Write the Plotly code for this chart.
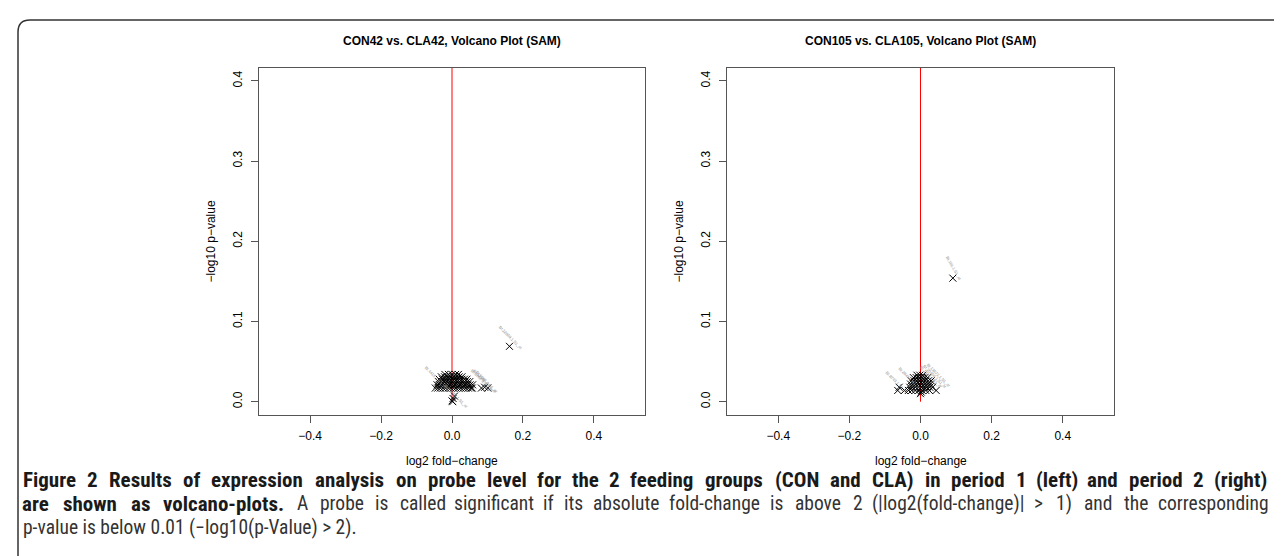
import plotly.graph_objects as go

W, H = 1282, 556

# ---------------- data ----------------
titles = ["CON42 vs. CLA42, Volcano Plot (SAM)", "CON105 vs. CLA105, Volcano Plot (SAM)"]
x_ticks = [-0.4, -0.2, 0.0, 0.2, 0.4]
x_tick_labels = ["\u22120.4", "\u22120.2", "0.0", "0.2", "0.4"]
y_ticks = [0.0, 0.1, 0.2, 0.3, 0.4]
y_tick_labels = ["0.0", "0.1", "0.2", "0.3", "0.4"]

# period 1 (left)
fc_left = [-0.047, -0.040, -0.033, -0.025, -0.018, -0.010, -0.003, 0.004, 0.011, 0.018, 0.025, 0.032, 0.039, 0.046, 0.053, 0.057,
           -0.042, -0.035, -0.028, -0.020, -0.012, -0.005, 0.002, 0.009, 0.016, 0.023, 0.030, 0.037, 0.044, 0.051, 0.058,
           -0.038, -0.030, -0.022, -0.014, -0.006, 0.001, 0.008, 0.015, 0.022, 0.029, 0.036, 0.043, 0.050,
           -0.036, -0.027, -0.018, -0.009, 0.000, 0.007, 0.014, 0.021, 0.028, 0.035, 0.042,
           -0.030, -0.021, -0.012, -0.004, 0.004, 0.012, 0.020, 0.028,
           -0.020, -0.010, 0.000, 0.010, 0.018,
           0.083, 0.092, 0.101, 0.162,
           0.000, 0.003, 0.007, 0.002]
p_left = [0.017] * 16 + [0.021] * 15 + [0.025] * 13 + [0.028] * 11 + [0.031] * 8 + [0.034] * 5 + \
         [0.017, 0.018, 0.017, 0.069] + [0.001, 0.004, 0.007, 0.000]

# period 2 (right)
fc_right = [-0.064, -0.045, -0.034, -0.025, -0.015, -0.005, 0.005, 0.015, 0.025, 0.044,
            -0.060, -0.030, -0.022, -0.014, -0.006, 0.002, 0.010, 0.018, 0.026, 0.034,
            -0.028, -0.020, -0.012, -0.004, 0.004, 0.012, 0.020, 0.028,
            -0.026, -0.018, -0.010, -0.002, 0.006, 0.014, 0.022, 0.030,
            -0.020, -0.012, -0.004, 0.004, 0.012, 0.020,
            -0.010, -0.002, 0.006,
            0.000, 0.002, 0.091]
p_right = [0.014] * 10 + [0.018] * 10 + [0.022] * 8 + [0.026] * 8 + [0.030] * 6 + [0.033] * 3 + \
          [0.010, 0.012, 0.154]

# probe labels (tiny, grey) next to selected points
lab_left_text = ["Bt.22869.1.S1_at", "Bt.4415.1.S1_at", "Bt.9767.1.S1_at", "Bt.12281.1.S1_at", "Bt.5006.1.A1_at", "Bt.27766.1.S1_at"]
lab_left_x = [0.165, -0.045, 0.085, 0.093, 0.100, 0.012]
lab_left_y = [0.080, 0.030, 0.026, 0.025, 0.024, 0.006]
lab_right_text = ["Bt.166.1.S1_at", "Bt.8743.1.S1_at", "Bt.1326.1.S1_at", "Bt.20450.1.S1_at", "Bt.13672.1.S1_at", "Bt.2845.1.A1_at"]
lab_right_x = [0.094, -0.066, 0.030, 0.040, 0.052, -0.030]
lab_right_y = [0.166, 0.024, 0.030, 0.031, 0.033, 0.029]

# caption: (bold part, regular part) per line; first two lines are justified
caption_bold = ["Figure 2 Results of expression analysis on probe level for the 2 feeding groups (CON and CLA) in period 1 (left) and period 2 (right)",
                "are shown as volcano-plots.",
                ""]
caption_reg = ["",
               "A probe is called significant  if its absolute fold-change is above 2 (|log2(fold-change)| > 1) and the corresponding",
               "p-value is below 0.01 (\u2212log10(p-Value) > 2)."]

# ---------------- layout geometry (pixels) ----------------
box_top, box_bot = 60, 407
boxes = [(251, 637), (719, 1106)]
XR = [-0.544, 0.544]
YR = [-0.0166, 0.416]

def px(v):
    return v / W

def py(v):
    return 1 - v / H

FONT = "Liberation Sans, Arial, Helvetica, sans-serif"
CAPFONT = "Roboto Condensed, Liberation Sans Narrow, Arial Narrow, sans-serif"
AXC = "#555555"

fig = go.Figure()

panels = [(fc_left, p_left, lab_left_text, lab_left_x, lab_left_y, [45, 45, 45, 45, 45, 45]),
          (fc_right, p_right, lab_right_text, lab_right_x, lab_right_y, [60, 45, 45, 45, 45, 45])]

annotations = []
for i, (fx, fy, lt, lx, ly, la) in enumerate(panels):
    xa = "x" if i == 0 else "x2"
    ya = "y" if i == 0 else "y2"
    fig.add_trace(go.Scatter(x=[0, 0], y=[0, YR[1]], mode="lines",
                             line=dict(color="#ff0000", width=1), xaxis=xa, yaxis=ya,
                             showlegend=False, hoverinfo="skip"))
    fig.add_trace(go.Scatter(x=fx, y=fy, mode="markers",
                             marker=dict(symbol="x-thin", size=7, color="black",
                                         line=dict(color="black", width=1)),
                             xaxis=xa, yaxis=ya, showlegend=False))
    for t, x, y, a in zip(lt, lx, ly, la):
        annotations.append(dict(text=t, x=x, y=y, xref=xa, yref=ya, showarrow=False,
                                textangle=a, font=dict(family=FONT, size=4, color="#8c8c8c")))
    x0, x1 = boxes[i]
    cx = (x0 + x1) / 2
    annotations.append(dict(text="<b>" + titles[i] + "</b>", x=px(cx), y=py(33), xref="paper", yref="paper",
                            showarrow=False, xanchor="center", yanchor="middle",
                            font=dict(family=FONT, size=12, color="black")))
    annotations.append(dict(text="log2 fold\u2212change", x=px(cx), y=py(453), xref="paper", yref="paper",
                            showarrow=False, xanchor="center", yanchor="middle",
                            font=dict(family=FONT, size=12, color="black")))
    annotations.append(dict(text="\u2212log10 p\u2212value", x=px(x0 - 48), y=py((box_top + box_bot) / 2),
                            xref="paper", yref="paper", showarrow=False, textangle=-90,
                            xanchor="center", yanchor="middle",
                            font=dict(family=FONT, size=12, color="black")))

# ---- caption, justified word by word (approximate glyph metrics, calibrated) ----
REG = {' ': 278, 'f': 278, 'i': 222, 'j': 222, 'l': 222, 'm': 833, 'r': 333, 't': 278, 'w': 722,
       'c': 500, 'k': 500, 's': 500, 'v': 500, 'x': 500, 'y': 500, 'z': 500, '(': 333, ')': 333,
       '.': 278, ',': 278, '-': 333, '|': 300, '>': 584, 'A': 667, 'V': 667, '\u2212': 584}
BLD = {' ': 278, 'f': 333, 'i': 278, 'j': 278, 'l': 278, 'm': 889, 'r': 389, 't': 333, 'w': 778,
       'a': 556, 'c': 556, 'e': 556, 'k': 556, 's': 556, 'v': 556, 'x': 556, 'y': 556, 'z': 500,
       '(': 333, ')': 333, '.': 278, ',': 278, '-': 333, 'C': 722, 'L': 611, 'N': 722, 'F': 611,
       'R': 722, 'A': 722}

def em(word, bold):
    tab = BLD if bold else REG
    dflt = 611 if bold else 556
    return sum(tab.get(c, 722 if c.isupper() else dflt) for c in word) / 1000.0

SIZE_B, SIZE_R = 21, 19.5
# calibration against the rendered condensed font (measured widths in em)
K_B = 52.9 / em(caption_bold[0], True)
K_R = 42.6 / em(caption_reg[1].replace("  ", " "), False)
CAP_X0, CAP_X1 = 14, 1258
cap_y = [472, 495.5, 519]

for j in range(2):
    words = [(w, True) for w in caption_bold[j].split(" ") if w] + \
            [(w, False) for w in caption_reg[j].replace("  ", " ").split(" ") if w]
    widths = [em(w, b) * (K_B * SIZE_B if b else K_R * SIZE_R) for w, b in words]
    gap = (CAP_X1 - CAP_X0 - sum(widths)) / (len(words) - 1)
    x = CAP_X0
    for (w, b), wd in zip(words, widths):
        t = w.replace(">", "&gt;")
        if b:
            t = "<b>" + t + "</b>"
        annotations.append(dict(text=t, x=px(x + wd / 2), y=py(cap_y[j]), xref="paper", yref="paper",
                                showarrow=False, xanchor="center", yanchor="middle", borderpad=0,
                                font=dict(family=CAPFONT, size=SIZE_B if b else SIZE_R,
                                          color="#1a1a1a" if b else "#333333")))
        x += wd + gap

# last (unjustified) line
annotations.append(dict(text=caption_reg[2].replace(">", "&gt;"), x=px(CAP_X0), y=py(cap_y[2]),
                        xref="paper", yref="paper", showarrow=False, xanchor="left", yanchor="middle",
                        borderpad=0, font=dict(family=CAPFONT, size=SIZE_R, color="#333333")))

def xaxis(i):
    x0, x1 = boxes[i]
    return dict(domain=[px(x0), px(x1)], range=XR, tickvals=x_ticks, ticktext=x_tick_labels,
                showgrid=False, zeroline=False, showline=True, linecolor=AXC, linewidth=1, mirror=True,
                ticks="outside", ticklen=7, tickcolor=AXC, tickwidth=1,
                tickfont=dict(family=FONT, size=12, color="black"),
                anchor="y" if i == 0 else "y2", ticklabelstandoff=3)

def yaxis(i):
    return dict(domain=[py(box_bot), py(box_top)], range=YR, tickvals=y_ticks, ticktext=y_tick_labels,
                showgrid=False, zeroline=False, showline=True, linecolor=AXC, linewidth=1, mirror=True,
                ticks="outside", ticklen=7, tickcolor=AXC, tickwidth=1, tickangle=-90,
                tickfont=dict(family=FONT, size=12, color="black"),
                anchor="x" if i == 0 else "x2", ticklabelstandoff=4)

# outer frame with rounded top-left corner
frame = (f"M {px(W)},{py(12)} L {px(22)},{py(12)} Q {px(10)},{py(12)} {px(10)},{py(24)} "
         f"L {px(10)},{py(H)}")

fig.update_layout(
    width=W, height=H, margin=dict(l=0, r=0, t=0, b=0),
    paper_bgcolor="white", plot_bgcolor="white",
    xaxis=xaxis(0), yaxis=yaxis(0), xaxis2=xaxis(1), yaxis2=yaxis(1),
    annotations=annotations,
    shapes=[dict(type="path", path=frame, xref="paper", yref="paper",
                 line=dict(color="#333333", width=1.5))],
    showlegend=False,
)

fig.write_html("out.html")
